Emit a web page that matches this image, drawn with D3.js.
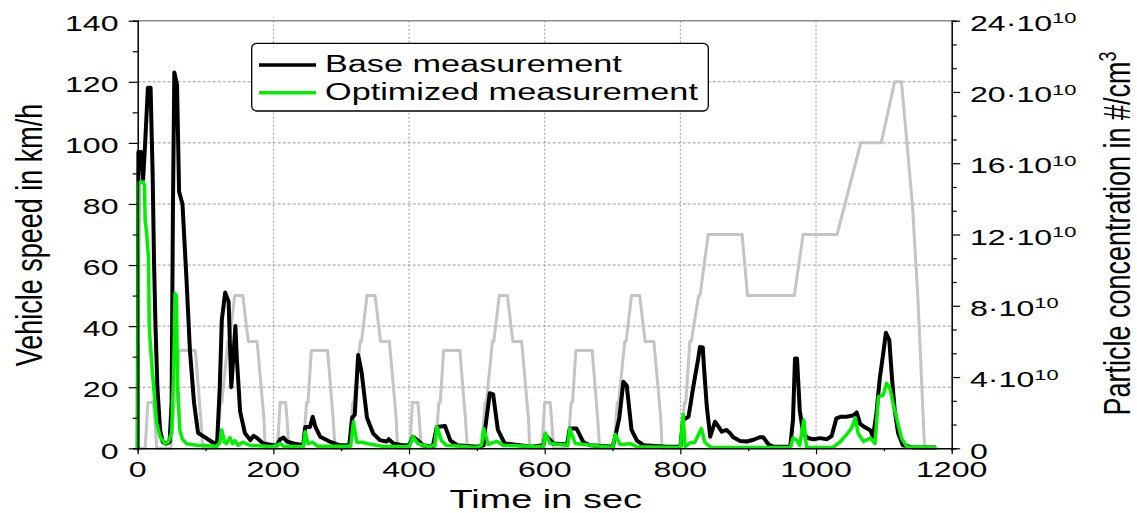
<!DOCTYPE html>
<html><head><meta charset="utf-8">
<script src="https://cdn.jsdelivr.net/npm/d3@7"></script>
<style>body{margin:0;background:#fff}svg{display:block}text{font-family:"Liberation Sans",Arial,Helvetica,sans-serif;fill:#000}</style>
</head><body><svg id="c" width="1137" height="513"></svg>
<script>
// ---- data ----
const speedTicks = [0,20,40,60,80,100,120,140];
const timeTicks = [0,200,400,600,800,1000,1200];
const concTicks = [0,4,8,12,16,20,24];           // x 10^10
const seriesNames = ["Base measurement","Optimized measurement"];

// vehicle speed (NEDC), km/h
const nedcTime = [0,11,15,23,25,28,49,54,56,61,85,93,96,117,122,124,133,135,143,155,163,176,186,188,
  195,206,210,218,220,223,244,249,251,256,280,288,291,312,317,319,328,330,338,350,358,371,381,383,
  390,401,405,413,415,418,439,444,446,451,475,483,486,507,512,514,523,525,533,545,553,566,576,578,
  585,596,600,608,610,613,634,639,641,646,670,678,681,702,707,709,718,720,728,740,748,761,771,773,
  780,800,806,808,814,816,827,829,841,891,899,968,981,1031,1066,1096,1116,1126,1142,1150,1160,1180];
const nedcSpeed = [0,0,15,15,10,0,0,15,15,32,32,10,0,0,15,15,35,35,50,50,35,35,10,0,
  0,0,15,15,10,0,0,15,15,32,32,10,0,0,15,15,35,35,50,50,35,35,10,0,
  0,0,15,15,10,0,0,15,15,32,32,10,0,0,15,15,35,35,50,50,35,35,10,0,
  0,0,15,15,10,0,0,15,15,32,32,10,0,0,15,15,35,35,50,50,35,35,10,0,
  0,0,15,15,35,35,50,50,70,70,50,50,70,70,100,100,120,120,80,50,0,0];

// particle concentration, 10^10 #/cm3
const baseTime = [0,1,5,8,11,15,19,22,24,26,29,33,37,42,47,50,52,54,58,61,66,72,77,83,89,100,110,117,121,124,
  129,134,138,141,144,146,151,158,166,171,175,185,200,205,210,215,220,230,244,247,254,258,262,269,283,298,312,316,320,325,
  330,338,347,357,367,370,377,390,400,406,413,421,435,441,453,461,471,500,510,512,519,524,531,541,563,580,598,601,613,633,
  637,647,657,667,700,704,710,716,721,728,736,746,780,800,804,812,819,826,829,833,835,839,844,851,856,861,868,873,878,888,
  898,908,917,922,930,937,962,966,969,972,976,981,988,996,1006,1016,1023,1030,1036,1045,1055,1060,1065,1072,1080,1084,1089,1094,1099,1103,
  1108,1112,1116,1121,1128,1143,1177];
const baseConc = [0,16.63,16.63,15.09,17.14,20.23,20.23,15.43,10.63,7.2,3.43,1.03,0.34,0.26,0.34,2.57,13.71,21.09,20.4,14.4,
  13.71,9.43,5.49,2.57,0.86,0.6,0.34,0.26,3.43,7.2,8.74,8.23,3.43,5.14,6.86,5.14,2.06,0.86,0.46,0.7,
  0.6,0.27,0.17,0.17,0.51,0.6,0.38,0.27,0.17,1.2,1.2,1.77,1.2,0.65,0.38,0.17,0.17,1.71,1.89,5.23,
  4.29,1.71,0.84,0.46,0.38,0.51,0.27,0.17,0.17,0.65,0.43,0.17,0.09,1.2,1.25,0.43,0.17,0.09,0.17,1.03,
  3.09,3.03,1.03,0.27,0.17,0.09,0.17,0.74,0.27,0.22,1.11,1.11,0.34,0.17,0.09,0.65,1.71,3.74,3.51,1.03,
  0.43,0.17,0.09,0.09,1.59,1.77,3.43,4.97,5.69,5.66,4.46,2.33,0.65,1.49,1.23,0.93,1.03,0.86,0.62,0.41,
  0.38,0.48,0.62,0.62,0.21,0.09,0.09,1.59,5.04,5.04,2.14,0.84,0.58,0.51,0.57,0.51,0.69,1.68,1.77,1.77,
  1.85,2.01,1.37,1.18,1.01,0.65,1.95,3.93,5.31,6.48,6.07,3.93,2.14,0.84,0.17,0.05,0.05];
const optTime = [0,1,8,10,11,13,16,17,19,23,28,33,40,45,50,53,55,57,59,62,66,72,87,116,121,124,128,131,136,140,
  143,148,155,165,200,210,215,244,247,251,258,265,314,318,323,330,340,360,400,406,413,430,438,441,448,455,500,507,510,517,
  529,539,598,601,608,634,637,645,700,704,711,726,736,800,804,807,814,821,831,836,841,846,962,966,971,976,982,986,1025,1035,
  1045,1052,1058,1062,1070,1080,1087,1092,1099,1104,1109,1114,1119,1126,1134,1177];
const optConc = [0,14.91,14.95,14.74,12.8,12.17,10.63,6.86,5.66,3.65,1.41,0.65,0.26,0.34,0.86,4.29,8.69,8.57,3.43,1.03,
  0.51,0.26,0.17,0.12,0.3,1.03,0.34,0.26,0.6,0.26,0.43,0.17,0.34,0.17,0.09,0.26,0.12,0.09,0.93,0.26,
  0.34,0.12,0.12,1.49,0.34,0.34,0.26,0.12,0.09,0.65,0.26,0.09,0.17,1.22,0.43,0.17,0.05,0.17,1.11,0.22,
  0.39,0.17,0.09,0.86,0.27,0.17,1.11,0.27,0.05,0.77,0.22,0.26,0.09,0.05,1.89,0.09,0.31,0.31,1.11,0.34,
  0.17,0.05,0.05,0.57,0.48,0.17,1.59,0.05,0.05,0.34,0.77,1.11,1.71,0.84,0.38,0.57,0.27,2.9,2.98,3.65,
  3.36,2.43,1.68,0.57,0.09,0.05];

// ---- layout ----
const L = 137.7, R = 951.7, T = 20.7, B = 448.3;
const SX = 1.46; // horizontal text stretch
const svg = d3.select("#c");
const x = d3.scaleLinear().domain([0,1200]).range([L,R]);
const yL = d3.scaleLinear().domain([0,140]).range([B,T]);
const yR = d3.scaleLinear().domain([0,24]).range([B,T]);

// grid
const g = svg.append("g");
g.selectAll(".hg").data(speedTicks.filter(d=>d>0&&d<140)).join("line")
  .attr("x1",L).attr("x2",R).attr("y1",d=>yL(d)).attr("y2",d=>yL(d))
  .attr("stroke","#9a9a9a").attr("stroke-width",1).attr("stroke-dasharray","3,2");
g.selectAll(".vg").data(timeTicks.filter(d=>d>0&&d<1200)).join("line")
  .attr("y1",T).attr("y2",B).attr("x1",d=>x(d)).attr("x2",d=>x(d))
  .attr("stroke","#9a9a9a").attr("stroke-width",1).attr("stroke-dasharray","2,2");
// top border
svg.append("line").attr("x1",L).attr("x2",R).attr("y1",T).attr("y2",T).attr("stroke","#8c8c8c").attr("stroke-width",1.5);

// lines
const mk = (xs, ys) => xs.map((t,i)=>[t,ys[i]]);
const lineL = d3.line().x(d=>x(d[0])).y(d=>yL(d[1]));
const lineR = d3.line().x(d=>x(d[0])).y(d=>yR(d[1]));
svg.append("path").datum(mk(nedcTime,nedcSpeed)).attr("d",lineL)
  .attr("fill","none").attr("stroke","#c4c4c4").attr("stroke-width",3).attr("stroke-linejoin","round");
svg.append("path").datum(mk(baseTime,baseConc)).attr("d",lineR)
  .attr("fill","none").attr("stroke","#000").attr("stroke-width",4).attr("stroke-linejoin","round");
svg.append("path").datum(mk(optTime,optConc)).attr("d",lineR)
  .attr("fill","none").attr("stroke","#00f000").attr("stroke-width",3.5).attr("stroke-linejoin","round");

// axes
const axL = svg.append("g").attr("transform",`translate(${L},0)`)
  .call(d3.axisLeft(yL).tickValues(d3.range(0,141,10)).tickSize(5).tickFormat(""));
axL.selectAll(".tick line").filter(d=>d%20===0).attr("x2",-9);
const axB = svg.append("g").attr("transform",`translate(0,${B})`)
  .call(d3.axisBottom(x).tickValues(d3.range(0,1201,100)).tickSize(3).tickFormat(""));
axB.selectAll(".tick line").filter(d=>d%200===0).attr("y2",6);
const minorR = d3.range(0,19).map(i=>i*4/3);
const axR = svg.append("g").attr("transform",`translate(${R},0)`)
  .call(d3.axisRight(yR).tickValues(minorR).tickSize(5).tickFormat(""));
axR.selectAll(".tick line").filter((d,i)=>i%3===0).attr("x2",8.5);
[axL,axB,axR].forEach(a=>{a.select(".domain").attr("stroke","#000").attr("stroke-width",1.5);a.selectAll(".tick line").attr("stroke","#000").attr("stroke-width",1.2);});

// tick labels
function htext(px,py,str,size,anchor){
  return svg.append("text").attr("transform",`translate(${px},${py}) scale(${SX},1)`)
    .attr("text-anchor",anchor).attr("font-size",size).text(str);
}
speedTicks.forEach(d=>htext(118.5,yL(d)+10.2,d,22,"end"));
timeTicks.forEach(d=>htext(x(d),476.7,d,22,"middle"));
concTicks.forEach(d=>{
  const t = svg.append("text").attr("transform",`translate(970,${yR(d)+10.2}) scale(${SX},1)`).attr("font-size",22);
  if(d===0){t.text("0");}
  else{t.append("tspan").text(d+"\u00B710");t.append("tspan").attr("font-size",15).attr("dy",-7.6).text("10");}
});

// axis titles
htext((L+R)/2+1,507.5,"Time in sec",26,"middle");
svg.append("text").attr("transform","translate(41.5,235) scale(1.38,1) rotate(-90)")
  .attr("text-anchor","middle").attr("font-size",27).text("Vehicle speed in km/h");
const rt = svg.append("text").attr("transform","translate(1130,233.5) scale(1.36,1) rotate(-90)")
  .attr("text-anchor","middle").attr("font-size",27);
rt.append("tspan").text("Particle concentration in #/cm");
rt.append("tspan").attr("font-size",18).attr("dy",-10).text("3");

// legend
const lg = svg.append("g");
lg.append("rect").attr("x",251.7).attr("y",43.3).attr("width",456.6).attr("height",67.7).attr("rx",5)
  .attr("fill","#fff").attr("stroke","#000").attr("stroke-width",1.3);
const lcol = ["#000","#00f000"], lyy=[65,92.7];
seriesNames.forEach((n,i)=>{
  lg.append("line").attr("x1",259).attr("x2",316).attr("y1",lyy[i]).attr("y2",lyy[i]).attr("stroke",lcol[i]).attr("stroke-width",3.5);
  lg.append("text").attr("transform",`translate(325,${lyy[i]+7.2}) scale(1.457,1)`).attr("font-size",23.5).text(n);
});
</script></body></html>
